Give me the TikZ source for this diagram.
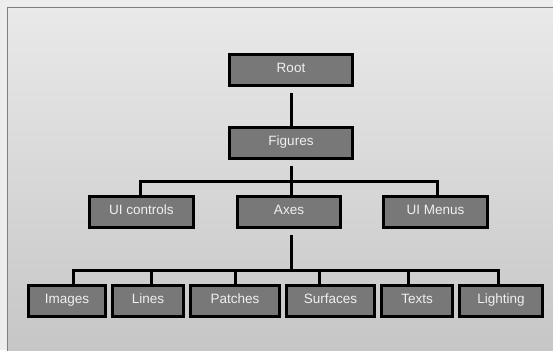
\documentclass[tikz,border=0pt]{standalone}
\usepackage{fontspec}
\setmainfont{Liberation Sans}
\usepackage{tikz}

\definecolor{boxgray}{HTML}{787878}
\definecolor{paneltop}{HTML}{E9E9E9}
\definecolor{panelbot}{HTML}{C6C6C6}

\tikzset{
    objbox/.style={draw=black, fill=boxgray, line width=3pt,
        minimum height=31pt, inner sep=0pt, text=white!94!black,
        text height=10pt, text depth=4pt,
        font=\fontsize{13.5}{15}\selectfont},
    conn/.style={black, line width=3pt, line join=miter},
}

\begin{document}
\begin{tikzpicture}[x=1pt, y=-1pt]
    \useasboundingbox (0,0) rectangle (553,350);
    \fill[white!93!black] (0,0) rectangle (553,350);
    \shade[top color=paneltop, bottom color=panelbot]
        (7,7) rectangle (555,352);
    \draw[gray, line width=1pt] (7.5,352) -- (7.5,7.5) -- (555,7.5);

    % nodes
    \node[objbox, minimum width=123pt] (root) at (291,70) {Root};
    \node[objbox, minimum width=123pt] (figures) at (291,142.5) {Figures};
    \node[objbox, minimum width=104pt] (uicontrols) at (141.5,211.5) {UI controls};
    \node[objbox, minimum width=103pt] (axes) at (289,211.5) {Axes};
    \node[objbox, minimum width=104pt] (uimenus) at (435.5,211.5) {UI Menus};
    \node[objbox, minimum width=77pt] (images) at (67,300.5) {Images};
    \node[objbox, minimum width=71pt] (lines) at (148,300.5) {Lines};
    \node[objbox, minimum width=89pt] (patches) at (235,300.5) {Patches};
    \node[objbox, minimum width=88pt] (surfaces) at (330.5,300.5) {Surfaces};
    \node[objbox, minimum width=71pt] (texts) at (417,300.5) {Texts};
    \node[objbox, minimum width=83pt] (lighting) at (501,300.5) {Lighting};

    \coordinate (bus1) at (291,181);
    \coordinate (bus2) at (291,270);

    % connectors
    \draw[conn, shorten <=6pt] (root.south) -- (figures.north);
    \draw[conn, shorten <=6pt] (figures.south) -- (figures.south |- axes.north);
    \draw[conn] ([xshift=-1.5pt]uicontrols.north) |- (bus1)
        -| ([xshift=1.5pt]uimenus.north);
    \draw[conn, shorten <=6pt] ([xshift=2pt]axes.south) -- (bus2);
    \draw[conn] ([xshift=6pt]images.north) |- (bus2)
        -| ([xshift=-3pt]lighting.north);
    \foreach \n/\s in {lines/3, patches/0, surfaces/-11.5, texts/-9}{
        \draw[conn] ([xshift=\s pt]\n.north) -- ([xshift=\s pt]\n.north |- bus2);
    }
\end{tikzpicture}
\end{document}
